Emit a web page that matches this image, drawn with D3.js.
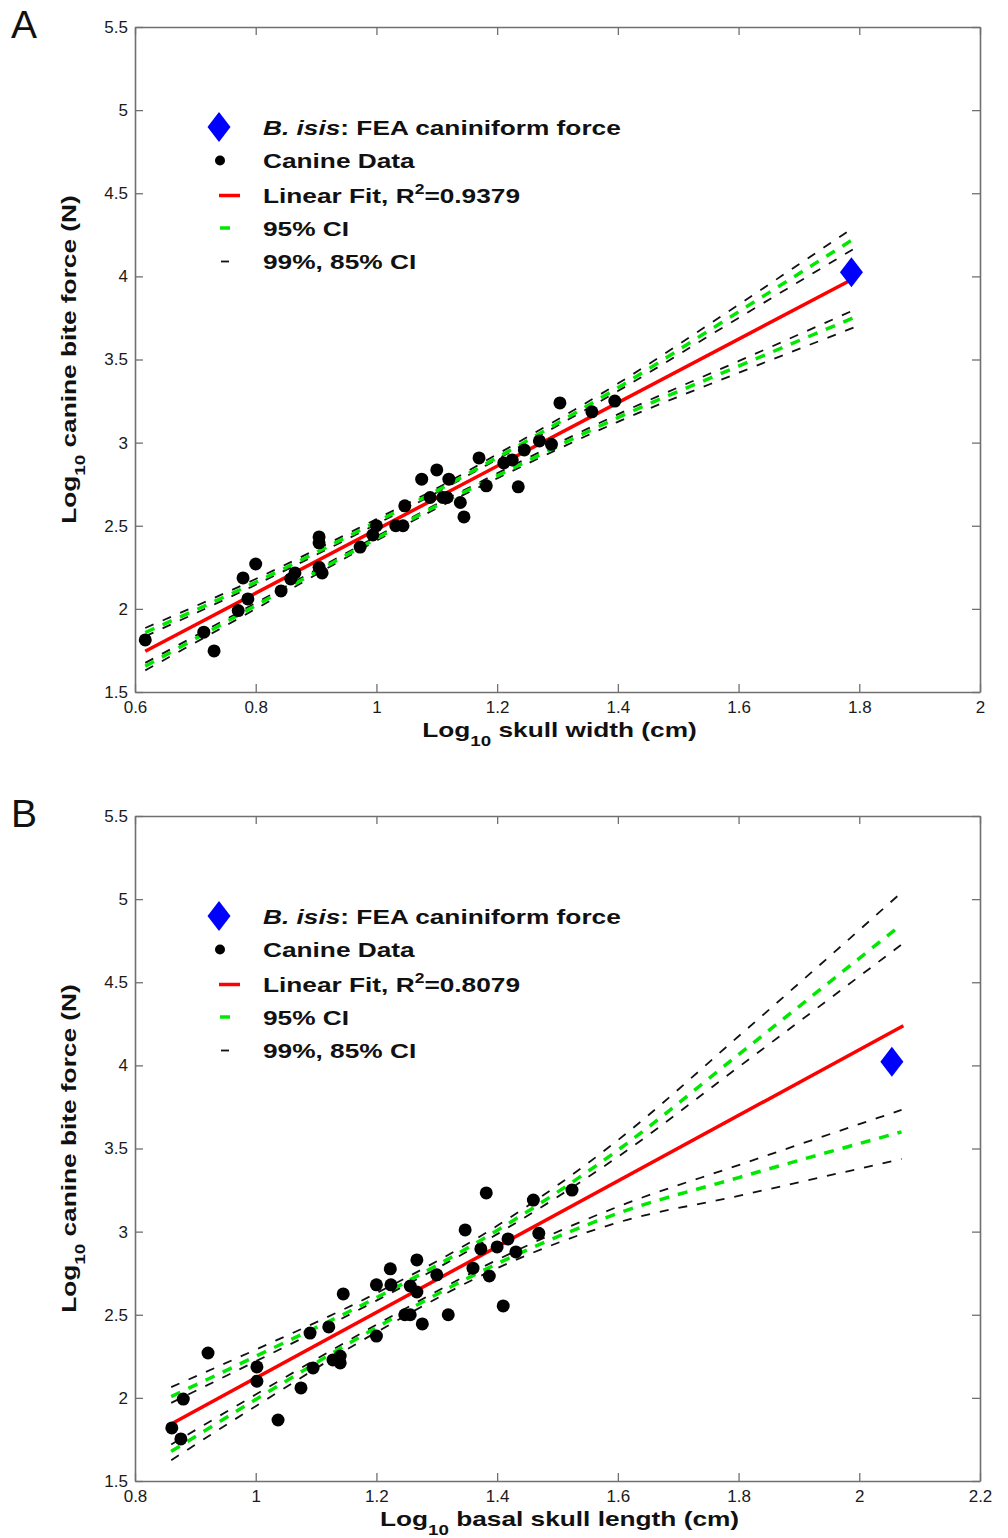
<!DOCTYPE html>
<html>
<head>
<meta charset="utf-8">
<script src="https://cdn.jsdelivr.net/npm/d3@7"></script>
<style>
  body { margin: 0; background: #fff; }
  svg text { font-family: "Liberation Sans", Arial, Helvetica, sans-serif; }
</style>
</head>
<body>
<svg id="chart" width="1008" height="1538"></svg>
<script>
// ---------- data ----------

// panel A: log10 skull width vs log10 canine bite force
const widthA = [0.617, 0.714, 0.731, 0.771, 0.779, 0.787, 0.80, 0.842, 0.858, 0.865,
  0.905, 0.905, 0.905, 0.91, 0.973, 0.994, 1.0, 1.032, 1.044, 1.047,
  1.075, 1.089, 1.10, 1.11, 1.12, 1.117, 1.139, 1.145, 1.17, 1.182,
  1.211, 1.225, 1.235, 1.245, 1.27, 1.29, 1.304, 1.357, 1.395];
const forceA = [1.813, 1.86, 1.747, 1.99, 2.186, 2.06, 2.27, 2.108, 2.18, 2.216,
  2.433, 2.397, 2.25, 2.216, 2.372, 2.445, 2.50, 2.50, 2.50, 2.62,
  2.78, 2.67, 2.836, 2.67, 2.78, 2.67, 2.64, 2.553, 2.908, 2.74,
  2.878, 2.896, 2.734, 2.956, 3.01, 2.99, 3.239, 3.185, 3.25];

// panel B: log10 basal skull length vs log10 canine bite force
const lengthB = [0.861, 0.876, 0.88, 0.921, 1.002, 1.002, 1.037, 1.075, 1.09, 1.095,
  1.121, 1.128, 1.14, 1.14, 1.145, 1.20, 1.20, 1.223, 1.224, 1.247,
  1.256, 1.256, 1.267, 1.267, 1.276, 1.30, 1.319, 1.347, 1.36, 1.373,
  1.382, 1.387, 1.40, 1.41, 1.418, 1.431, 1.46, 1.469, 1.524];
const forceB = [1.819, 1.753, 1.993, 2.27, 2.186, 2.10, 1.867, 2.06, 2.39, 2.18,
  2.427, 2.228, 2.252, 2.21, 2.625, 2.372, 2.68, 2.776, 2.68, 2.50,
  2.50, 2.673, 2.83, 2.637, 2.445, 2.74, 2.50, 3.01, 2.78, 2.896,
  3.233, 2.733, 2.908, 2.553, 2.956, 2.878, 3.19, 2.99, 3.25];

// B. isis FEA estimate
const isisA = { x: 1.787, y: 4.025 };
const isisB = { x: 2.054, y: 4.022 };

// linear fits (end points)
const fitXA = [0.617, 1.787];
const fitYA = [1.745, 3.98];
const fitXB = [0.863, 2.073];
const fitYB = [1.849, 4.238];

// confidence bands, panel A
const ciXA  = [0.617, 0.8, 1.0, 1.1, 1.2, 1.4, 1.6, 1.793];
const hi99A = [1.885, 2.18, 2.54, 2.725, 2.93, 3.355, 3.83, 4.30];
const hi95A = [1.858, 2.16, 2.523, 2.71, 2.91, 3.33, 3.787, 4.23];
const hi85A = [1.835, 2.145, 2.51, 2.70, 2.90, 3.31, 3.75, 4.17];
const lo85A = [1.675, 2.035, 2.435, 2.63, 2.815, 3.17, 3.49, 3.80];
const lo95A = [1.655, 2.02, 2.423, 2.62, 2.80, 3.15, 3.46, 3.755];
const lo99A = [1.630, 2.0, 2.41, 2.605, 2.785, 3.125, 3.42, 3.695];

// confidence bands, panel B
const ciXB  = [0.86, 1.0, 1.2, 1.4, 1.6, 1.8, 2.07];
const hi99B = [2.065, 2.29, 2.63, 3.035, 3.55, 4.175, 5.04];
const hi95B = [2.008, 2.25, 2.603, 3.007, 3.49, 4.065, 4.847];
const hi85B = [1.97, 2.22, 2.585, 2.985, 3.45, 3.99, 4.727];
const lo85B = [1.72, 2.02, 2.44, 2.83, 3.15, 3.40, 3.732];
const lo95B = [1.678, 1.99, 2.423, 2.807, 3.11, 3.325, 3.60];
const lo99B = [1.625, 1.95, 2.395, 2.78, 3.055, 3.215, 3.437];

// ticks
const xTicksA = [0.6, 0.8, 1, 1.2, 1.4, 1.6, 1.8, 2];
const xTicksB = [0.8, 1, 1.2, 1.4, 1.6, 1.8, 2, 2.2];
const yTicks = [1.5, 2, 2.5, 3, 3.5, 4, 4.5, 5, 5.5];

const legendLabels = ["FEA caniniform force", "Canine Data", "Linear Fit", "95% CI", "99%, 85% CI"];
const r2A = "0.9379";
const r2B = "0.8079";

// ---------- drawing ----------

const svg = d3.select("#chart");
const fmt = d3.format("~g");
const axisColor = "#707070";
const stretch = 1.25;

function drawPanel(p) {
  const top = p.top;
  const bottom = top + 665;
  const left = 135, right = 980;

  const x = d3.scaleLinear().domain(p.xDomain).range([left, right]);
  const y = d3.scaleLinear().domain([1.5, 5.5]).range([bottom, top]);

  const g = svg.append("g");

  // panel letter
  g.append("text")
    .attr("x", 11)
    .attr("y", top + 11)
    .attr("font-size", 39)
    .attr("fill", "#111")
    .text(p.letter);

  // axes, ticks pointing inward on all four sides
  const styleAxis = sel => {
    sel.select(".domain").attr("stroke", axisColor).attr("stroke-width", 1.6);
    sel.selectAll(".tick line").attr("stroke", axisColor).attr("stroke-width", 1.3);
    sel.selectAll(".tick text").attr("fill", "#1a1a1a").attr("font-size", 17);
    sel.attr("font-family", null).attr("font-size", null);
  };

  g.append("g")
    .attr("transform", `translate(0,${bottom})`)
    .call(d3.axisBottom(x).tickValues(p.xTicks).tickFormat(fmt)
      .tickSizeInner(-8).tickSizeOuter(0).tickPadding(9))
    .call(styleAxis);

  g.append("g")
    .attr("transform", `translate(0,${top})`)
    .call(d3.axisTop(x).tickValues(p.xTicks).tickFormat("")
      .tickSizeInner(-8).tickSizeOuter(0))
    .call(styleAxis);

  g.append("g")
    .attr("transform", `translate(${left},0)`)
    .call(d3.axisLeft(y).tickValues(yTicks).tickFormat(fmt)
      .tickSizeInner(-8).tickSizeOuter(0).tickPadding(7))
    .call(styleAxis);

  g.append("g")
    .attr("transform", `translate(${right},0)`)
    .call(d3.axisRight(y).tickValues(yTicks).tickFormat("")
      .tickSizeInner(-8).tickSizeOuter(0))
    .call(styleAxis);

  // axis titles
  const xt = g.append("text")
    .attr("transform", `translate(${(left + right) / 2 + 2},${bottom + 45}) scale(${stretch},1)`)
    .attr("text-anchor", "middle")
    .attr("font-size", 21)
    .attr("font-weight", "bold")
    .attr("fill", "#111");
  xt.append("tspan").text("Log");
  xt.append("tspan").attr("font-size", 15).attr("dy", 9).text("10");
  xt.append("tspan").attr("dy", -9).text(" " + p.xLabel);

  const yt = g.append("text")
    .attr("transform", `translate(76,${(top + bottom) / 2}) rotate(-90) scale(${stretch},1)`)
    .attr("text-anchor", "middle")
    .attr("font-size", 21)
    .attr("font-weight", "bold")
    .attr("fill", "#111");
  yt.append("tspan").text("Log");
  yt.append("tspan").attr("font-size", 15).attr("dy", 9).text("10");
  yt.append("tspan").attr("dy", -9).text(" canine bite force (N)");

  // confidence bands
  const band = (xs, ys) => d3.line()
    .x((d, i) => x(xs[i]))
    .y(d => y(d))
    .curve(d3.curveMonotoneX)(ys);

  p.black.forEach(ys => {
    g.append("path")
      .attr("d", band(p.ciX, ys))
      .attr("fill", "none")
      .attr("stroke", "#111")
      .attr("stroke-width", 1.8)
      .attr("stroke-dasharray", "9,10");
  });
  p.green.forEach(ys => {
    g.append("path")
      .attr("d", band(p.ciX, ys))
      .attr("fill", "none")
      .attr("stroke", "#00e800")
      .attr("stroke-width", 3.5)
      .attr("stroke-dasharray", "10,9");
  });

  // fit line
  g.append("path")
    .attr("d", d3.line().x((d, i) => x(p.fitX[i])).y(d => y(d))(p.fitY))
    .attr("fill", "none")
    .attr("stroke", "#ff0000")
    .attr("stroke-width", 3.5);

  // canine data
  g.append("g")
    .selectAll("circle")
    .data(p.xs)
    .join("circle")
    .attr("cx", d => x(d))
    .attr("cy", (d, i) => y(p.ys[i]))
    .attr("r", 6.5)
    .attr("fill", "#000");

  // B. isis diamond
  const diamond = "M0,-15L11.5,0L0,15L-11.5,0Z";
  g.append("path")
    .attr("d", diamond)
    .attr("transform", `translate(${x(p.isis.x)},${y(p.isis.y)})`)
    .attr("fill", "#0000ff");

  // legend
  const rows = [top + 100, top + 133.5, top + 168.5, top + 201, top + 234.5];
  const lg = g.append("g");
  lg.append("path").attr("d", diamond).attr("transform", `translate(219,${rows[0]})`).attr("fill", "#0000ff");
  lg.append("circle").attr("cx", 220).attr("cy", rows[1]).attr("r", 5).attr("fill", "#000");
  lg.append("line").attr("x1", 219).attr("x2", 240).attr("y1", rows[2]).attr("y2", rows[2])
    .attr("stroke", "#ff0000").attr("stroke-width", 3.5);
  lg.append("line").attr("x1", 220).attr("x2", 230).attr("y1", rows[3]).attr("y2", rows[3])
    .attr("stroke", "#00e800").attr("stroke-width", 3.5);
  lg.append("line").attr("x1", 221).attr("x2", 229).attr("y1", rows[4]).attr("y2", rows[4])
    .attr("stroke", "#111").attr("stroke-width", 1.8);

  const legendText = (i) => lg.append("text")
    .attr("transform", `translate(263,${rows[i] + 7.5}) scale(${stretch},1)`)
    .attr("font-size", 21)
    .attr("font-weight", "bold")
    .attr("fill", "#111");

  const t0 = legendText(0);
  t0.append("tspan").attr("font-style", "italic").text("B. isis");
  t0.append("tspan").text(": " + legendLabels[0]);

  legendText(1).text(legendLabels[1]);

  const t2 = legendText(2);
  t2.append("tspan").text(legendLabels[2] + ", R");
  t2.append("tspan").attr("font-size", 14).attr("dy", -9).text("2");
  t2.append("tspan").attr("dy", 9).text("=" + p.r2);

  legendText(3).text(legendLabels[3]);
  legendText(4).text(legendLabels[4]);
}

drawPanel({
  letter: "A",
  top: 27,
  xDomain: [0.6, 2],
  xTicks: xTicksA,
  xLabel: "skull width (cm)",
  xs: widthA, ys: forceA,
  isis: isisA,
  fitX: fitXA, fitY: fitYA,
  ciX: ciXA,
  black: [hi99A, hi85A, lo85A, lo99A],
  green: [hi95A, lo95A],
  r2: r2A
});

drawPanel({
  letter: "B",
  top: 816,
  xDomain: [0.8, 2.2],
  xTicks: xTicksB,
  xLabel: "basal skull length (cm)",
  xs: lengthB, ys: forceB,
  isis: isisB,
  fitX: fitXB, fitY: fitYB,
  ciX: ciXB,
  black: [hi99B, hi85B, lo85B, lo99B],
  green: [hi95B, lo95B],
  r2: r2B
});
</script>
</body>
</html>
